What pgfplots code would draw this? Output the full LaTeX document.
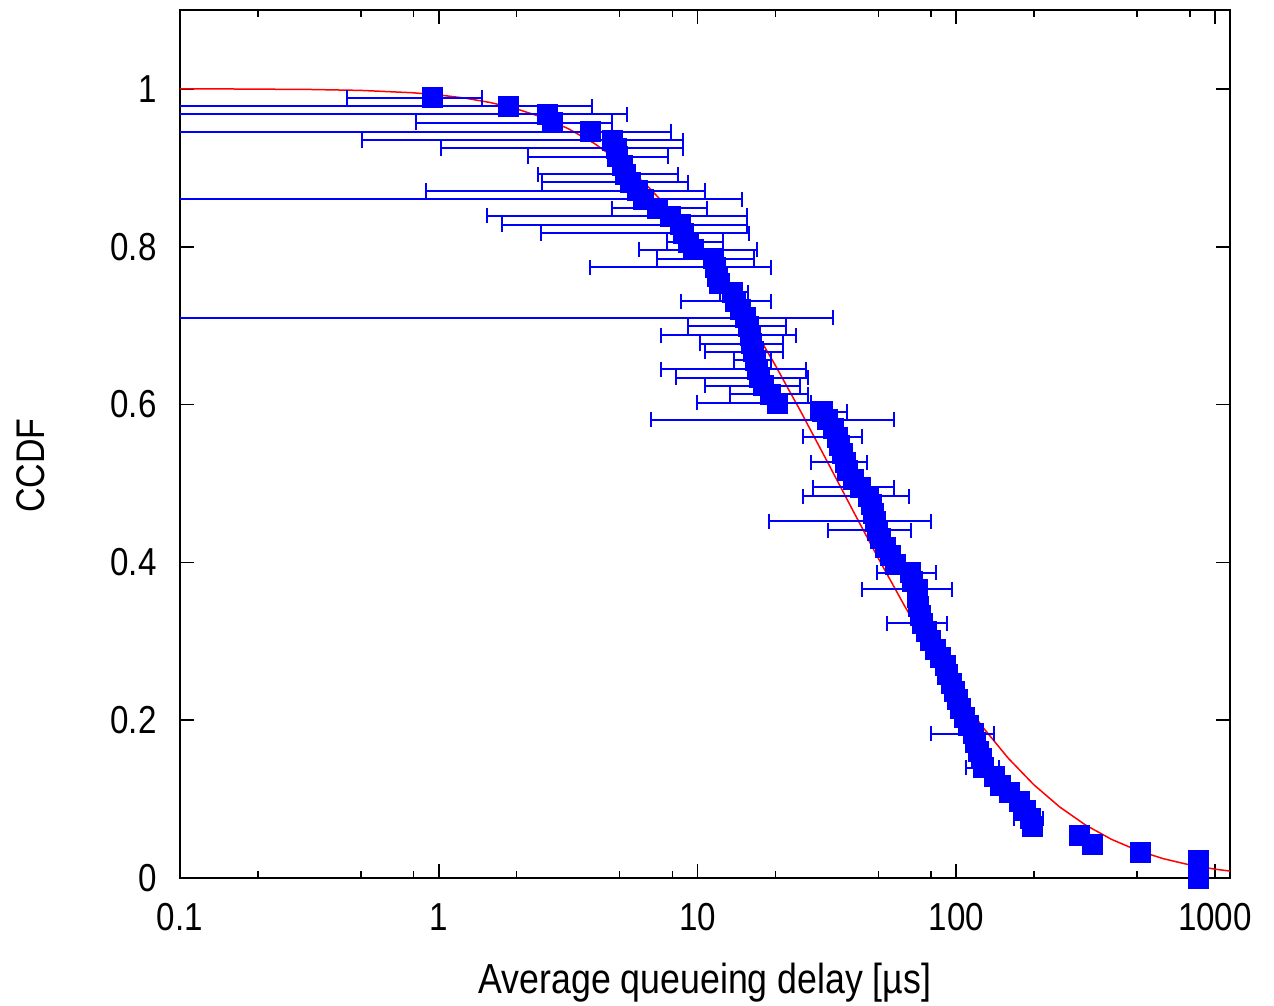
\documentclass[border=0pt]{standalone}
\usepackage{fontspec}
\setmainfont{Liberation Sans}[FakeStretch=0.85]
\usepackage{pgfplots}
\usepackage{pgfplotstable}
\pgfplotsset{compat=1.18}

% x: delay, y: CCDF, xlo/xhi: error bar ends
\pgfplotstableread{
x y xlo xhi
0.942 0.989 0.442 1.469
1.852 0.978 0.05 3.91
2.62 0.968 0.05 5.34
2.74 0.957 0.817 4.67
3.84 0.946 0.05 7.90
4.71 0.935 0.505 8.79
4.88 0.925 1.017 8.79
4.92 0.914 2.21 7.69
5.11 0.903 5.11 5.11
5.25 0.892 2.42 8.41
5.49 0.882 2.51 9.19
5.84 0.871 0.890 10.7
6.16 0.860 0.05 14.9
6.97 0.849 4.67 10.9
7.83 0.839 1.537 15.5
8.56 0.828 1.756 15.5
8.79 0.817 2.48 15.8
9.19 0.806 7.62 12.5
9.61 0.796 5.94 16.98
11.5 0.785 6.97 16.5
11.7 0.774 3.84 19.2
11.9 0.763 11.9 11.9
12.2 0.753 12.2 12.2
13.6 0.742 12.2 15.7
13.96 0.731 8.61 19.2
14.6 0.720 14.6 14.6
15.3 0.710 0.05 33.3
15.7 0.699 9.17 22.0
15.96 0.688 7.21 24.0
16.2 0.677 10.2 21.4
16.4 0.667 10.7 21.4
16.7 0.656 13.8 19.2
17.1 0.645 7.21 26.3
17.4 0.634 8.26 26.7
17.9 0.624 10.7 24.9
19.06 0.613 13.4 26.7
20.3 0.602 10.0 27.5
30.3 0.591 27.4 37.8
31.7 0.581 6.61 57.4
33.4 0.570 33.4 33.4
34.6 0.559 25.6 43.2
35.5 0.548 35.5 35.5
36.2 0.538 36.2 36.2
37.2 0.527 27.4 45.2
37.8 0.516 37.8 37.8
39.9 0.505 39.9 39.9
42.5 0.495 27.95 57.4
45.6 0.484 25.6 65.7
47.2 0.473 47.2 47.2
47.7 0.462 47.7 47.7
48.5 0.452 18.9 79.9
49.4 0.441 31.95 66.9
50.7 0.430 50.7 50.7
53.0 0.419 53.0 53.0
55.5 0.409 55.5 55.5
58.0 0.398 58.0 58.0
66.3 0.387 49.4 83.3
67.5 0.376 67.5 67.5
70.5 0.366 43.2 96.5
70.5 0.355 70.5 70.5
71.4 0.344 71.4 71.4
72.4 0.333 72.4 72.4
74.2 0.323 53.8 92.3
76.8 0.312 76.8 76.8
79.4 0.301 79.4 79.4
82.9 0.290 82.9 82.9
86.6 0.280 86.6 86.6
90.4 0.269 90.4 90.4
92.8 0.258 92.8 92.8
96.1 0.247 96.1 96.1
98.7 0.237 98.7 98.7
101.4 0.226 101.4 101.4
104 0.215 104 104
108 0.204 108 108
111 0.194 111 111
116.1 0.183 79.7 139.9
118.5 0.172 118.5 118.5
121.4 0.161 121.4 121.4
124.6 0.151 124.6 124.6
126.9 0.140 109.1 146.3
141 0.129 141 141
147.6 0.118 147.6 147.6
161 0.108 161 161
174.8 0.097 174.8 174.8
184.4 0.086 184.4 184.4
193 0.075 167.2 216.4
196.3 0.065 196.3 196.3
298.1 0.054 298.1 298.1
334.6 0.043 334.6 334.6
513.1 0.032 513.1 513.1
859.7 0.022 859.7 859.7
859.7 0.011 859.7 859.7
859.7 0.000 859.7 859.7
}\datatable

\begin{document}
\begin{tikzpicture}[font=\fontsize{19.5bp}{23bp}\selectfont]
\begin{axis}[
  name=ax,
  scale only axis, width=525bp, height=434bp,
  xmode=log, xmin=0.1, xmax=1143, ymin=0, ymax=1.1,
  xtick={0.1,1,10,100,1000}, xticklabels={0.1,1,10,100,1000},
  minor xtick={0.2,0.5,0.8,2,5,8,20,50,80,200,500,800},
  ytick={0,0.2,0.4,0.6,0.8,1}, yticklabels={0,0.2,0.4,0.6,0.8,1},
  tick align=inside, major tick length=7bp, minor tick length=3.5bp,
  axis line style={line width=1bp, black},
  every tick/.style={black, line width=0.8bp},
  /pgf/number format/assume math mode=true,
  yticklabel style={anchor=east, inner sep=0pt, xshift=-11.5bp},
  xticklabel style={anchor=north, inner sep=0pt, yshift=-12.5bp},
  xlabel={Average queueing delay [µs]},
  ylabel={CCDF},
  every axis x label/.style={at={(axis description cs:0.5,-0.1325)}, anchor=base, font=\fontsize{21bp}{24bp}\selectfont},
  every axis y label/.style={at={(axis description cs:-0.142,0.475)}, rotate=90, anchor=center, font=\fontsize{20bp}{24bp}\selectfont},
]
\addplot[red, line width=0.75bp, no marks] coordinates {
(0.1,1.0000) (0.158,0.9999) (0.316,0.9993) (0.501,0.9981) (0.794,0.9951)
(1,0.9924) (1.259,0.9884) (1.585,0.9827) (1.995,0.9748) (2.512,0.9640)
(3.162,0.9497) (3.981,0.9312) (5.012,0.9079) (6.310,0.8792) (7.943,0.8447)
(10,0.8043) (12.59,0.7580) (15.85,0.7064) (19.95,0.6503) (25.12,0.5906)
(31.62,0.5287) (39.81,0.4661) (50.12,0.4044) (63.10,0.3450) (79.43,0.2891)
(100,0.2379) (125.9,0.1922) (158.5,0.1522) (199.5,0.1182) (251.2,0.0900)
(316.2,0.0671) (398.1,0.0490) (501.2,0.0350) (631.0,0.0245) (794.3,0.0168)
(1000,0.0112) (1143,0.0088)
};
\addplot[only marks, mark=square*, mark size=5bp, blue,
  mark options={draw=blue, fill=blue},
  error bars/.cd, x dir=both, x explicit,
  error bar style={blue, line width=1bp},
  error mark options={rotate=90, blue, mark size=3.75bp, line width=1bp}]
  table[x=x, y=y,
    x error plus expr=\thisrow{xhi}-\thisrow{x},
    x error minus expr=\thisrow{x}-\thisrow{xlo}] {\datatable};
\end{axis}
\pgfresetboundingbox
\path[use as bounding box] ([shift={(-90bp,-63.5bp)}]ax.south west) rectangle ([shift={(22bp,5bp)}]ax.north east);
\end{tikzpicture}
\end{document}
